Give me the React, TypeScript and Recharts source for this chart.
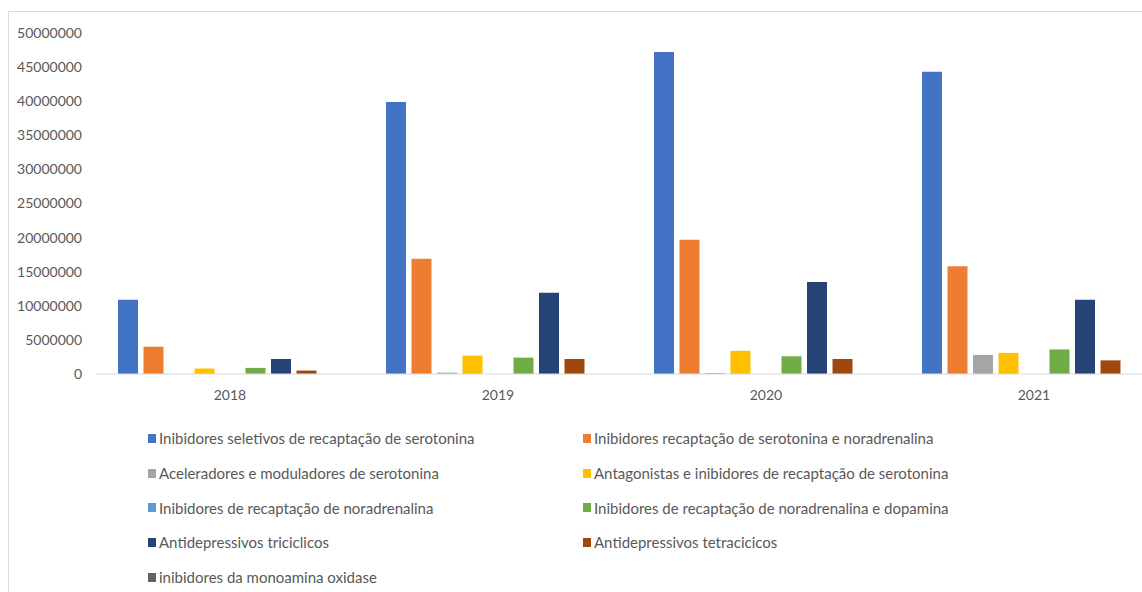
import React from "react";
import { BarChart, Bar, XAxis, YAxis, Legend } from "recharts";

const years = ["2018", "2019", "2020", "2021"];

const seriesNames = [
  "Inibidores seletivos de recaptação de serotonina",
  "Inibidores recaptação de serotonina e noradrenalina",
  "Aceleradores e moduladores de serotonina",
  "Antagonistas e inibidores de recaptação de serotonina",
  "Inibidores de recaptação de noradrenalina",
  "Inibidores de recaptação de noradrenalina e dopamina",
  "Antidepressivos triciclicos",
  "Antidepressivos tetracicicos",
  "inibidores da monoamina oxidase",
];

const seriesColors = [
  "#4472C4",
  "#ED7D31",
  "#A5A5A5",
  "#FFC000",
  "#5B9BD5",
  "#70AD47",
  "#264478",
  "#9E480E",
  "#636363",
];

// values per year (2018..2021)
const seletivos = [10900000, 39900000, 47200000, 44300000];
const snRecaptacao = [4000000, 16900000, 19700000, 15800000];
const aceleradores = [0, 200000, 150000, 2800000];
const antagonistas = [800000, 2700000, 3400000, 3100000];
const noradrenalina = [0, 0, 0, 0];
const noradrenalinaDopamina = [900000, 2400000, 2600000, 3600000];
const triciclicos = [2200000, 11900000, 13500000, 10900000];
const tetraciclicos = [500000, 2200000, 2200000, 2000000];
const imao = [0, 0, 0, 0];

const yTicks = [0, 5000000, 10000000, 15000000, 20000000, 25000000, 30000000, 35000000, 40000000, 45000000, 50000000];

const seriesValues = [
  seletivos,
  snRecaptacao,
  aceleradores,
  antagonistas,
  noradrenalina,
  noradrenalinaDopamina,
  triciclicos,
  tetraciclicos,
  imao,
];

const data = years.map((year, i) => {
  const row: Record<string, string | number> = { year };
  seriesValues.forEach((vals, s) => {
    row[`s${s}`] = vals[i];
  });
  return row;
});

const FONT = "Lato, 'Liberation Sans', sans-serif";

// keep the legend in series order (recharts sorts the payload by name)
const renderLegend = () => (
  <div
    style={{
      height: 178,
      boxSizing: "border-box",
      paddingTop: 7,
      paddingLeft: 139,
      display: "grid",
      gridTemplateColumns: "435px 435px",
      gridAutoRows: "34.7px",
      fontFamily: FONT,
      fontSize: 15,
      color: "#595959",
    }}
  >
    {seriesNames.map((name, i) => (
      <div key={name} style={{ display: "flex", alignItems: "center", whiteSpace: "nowrap" }}>
        <span
          style={{
            display: "inline-block",
            width: 8,
            height: 9,
            background: seriesColors[i],
            marginRight: 3,
          }}
        />
        <span>{name}</span>
      </div>
    ))}
  </div>
);

export default function App() {
  return (
    <div
      style={{
        position: "fixed",
        left: 0,
        top: 0,
        width: 1142,
        height: 592,
        overflow: "hidden",
        background: "#ffffff",
      }}
    >
      <div
        style={{
          position: "absolute",
          left: 8,
          top: 11,
          width: 1200,
          height: 600,
          borderTop: "1px solid #d9d9d9",
          borderLeft: "1px solid #d9d9d9",
        }}
      >
        <BarChart
          width={1160}
          height={580}
          data={data}
          margin={{ top: 21, right: 1, left: 0, bottom: 0 }}
          barSize={20}
          barGap={5.5}
        >
          <XAxis
            dataKey="year"
            axisLine={{ stroke: "#d9d9d9" }}
            tickLine={false}
            height={40}
            tickMargin={10}
            tick={{ fill: "#595959", fontSize: 14, fontFamily: FONT }}
          />
          <YAxis
            domain={[0, 50000000]}
            ticks={yTicks}
            width={87}
            axisLine={false}
            tickLine={false}
            tickMargin={8}
            interval={0}
            tick={{ fill: "#595959", fontSize: 14, fontFamily: FONT }}
          />
          <Legend verticalAlign="bottom" content={renderLegend} />
          {seriesNames.map((name, s) => (
            <Bar
              key={name}
              dataKey={`s${s}`}
              name={name}
              fill={seriesColors[s]}
              isAnimationActive={false}
            />
          ))}
        </BarChart>
      </div>
    </div>
  );
}
